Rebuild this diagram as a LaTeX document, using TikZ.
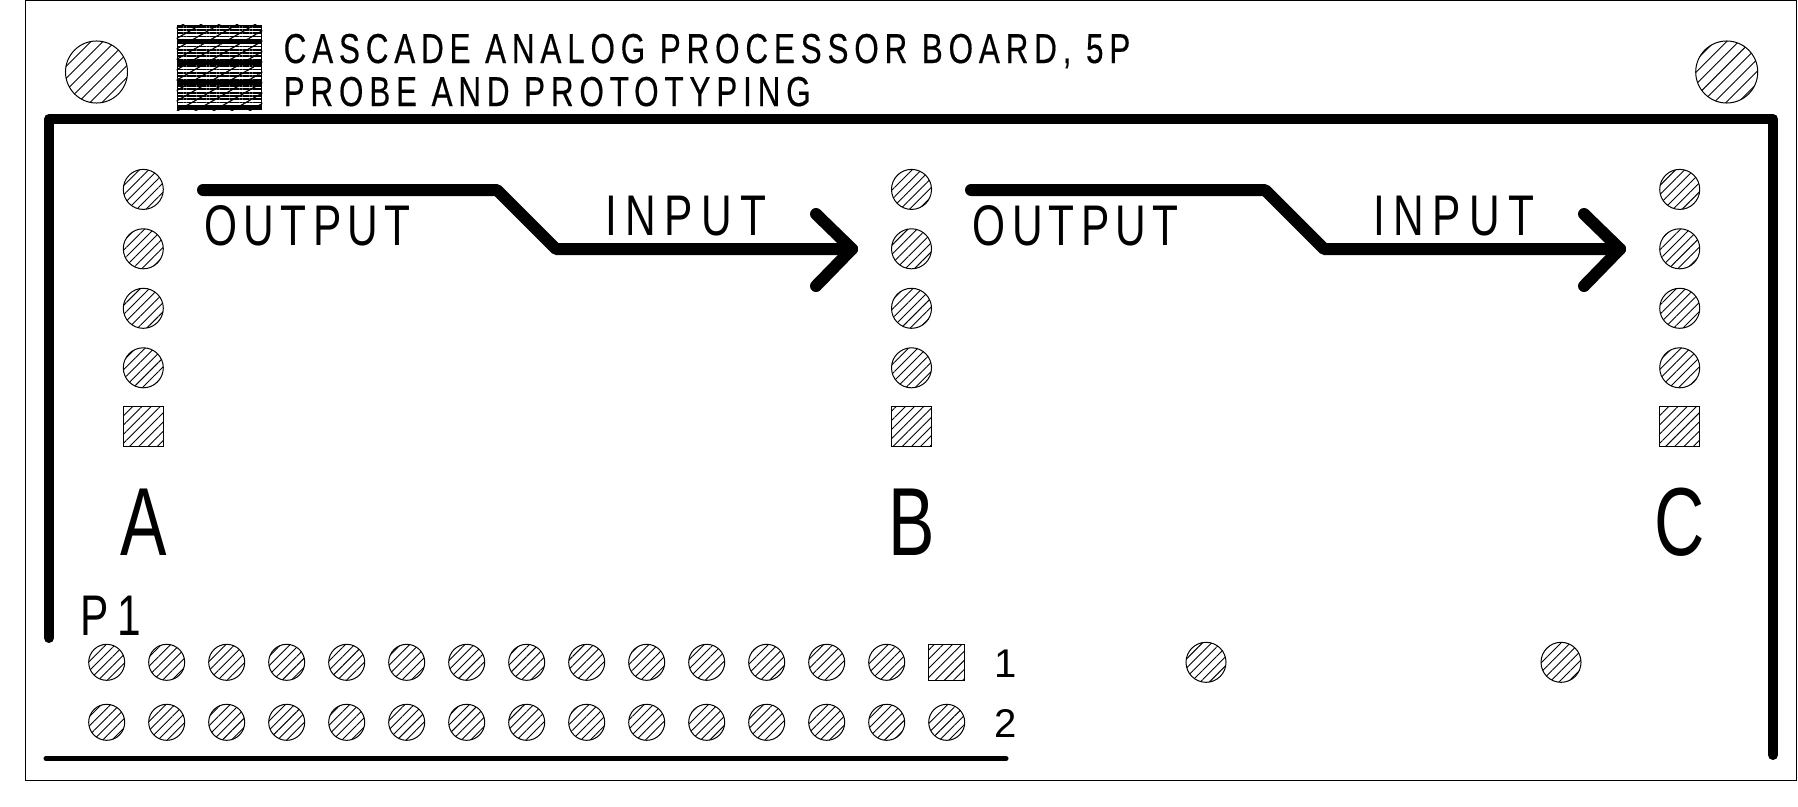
\documentclass[tikz,border=0pt]{standalone}
\usepackage{fontspec}
\setmainfont{Liberation Sans}
\usetikzlibrary{patterns.meta}
\newfontfamily\silkfont[FakeStretch=0.74, LetterSpace=11]{Liberation Sans}
\newfontfamily\inputfont[FakeStretch=0.74, LetterSpace=14.5]{Liberation Sans}
\newfontfamily\titlefont[FakeStretch=0.75, LetterSpace=14, FakeBold=0.4]{Liberation Sans}
\newfontfamily\columnfont[FakeStretch=0.72]{Liberation Sans}

\begin{document}
\begin{tikzpicture}
  [x=0.01cm, y=-0.01cm,
   pad/.style={circle, draw, line width=0.01cm, inner sep=0pt, minimum size=0.40cm,
     pattern={Lines[angle=45, distance=0.065cm, line width=0.009cm]}},
   padsq/.style={pad, rectangle, minimum size=0.40cm},
   pin/.style={pad, minimum size=0.36cm},
   pinsq/.style={padsq, minimum size=0.36cm},
   bighole/.style={pad, minimum size=0.62cm,
     pattern={Lines[angle=45, distance=0.085cm, line width=0.009cm]}},
   rail/.style={line width=0.10cm, line cap=round, line join=round},
   signal/.style={line width=0.12cm, line cap=round, line join=round},
   title/.style={anchor=base west, inner sep=0pt, font=\fontsize{11.9}{14}\titlefont},
   silk/.style={anchor=base west, inner sep=0pt, font=\fontsize{16.3}{18}\silkfont},
   silkin/.style={silk, font=\fontsize{16.3}{18}\inputfont},
   column/.style={anchor=base, inner sep=0pt, font=\fontsize{27.5}{30}\columnfont},
   pinnum/.style={anchor=base, inner sep=0pt, font=\fontsize{11.4}{14}\selectfont}]
  \useasboundingbox (0, 0) rectangle (1798, 806);

  % board edge
  \node (edge) at (911, 390.5) [draw, line width=0.01cm, inner sep=0pt,
    minimum width=17.70cm, minimum height=7.79cm] {};
  \node (holeL) at (96.5, 72) [bighole] {};
  \node (holeR) at (1726.7, 72) [bighole] {};

  % logo block
  \node (logo) at (219.5, 67.5) [draw, line width=0.01cm, inner sep=0pt,
    minimum width=0.84cm, minimum height=0.84cm,
    pattern={Lines[angle=0, distance=0.033cm, line width=0.018cm]}] {};
  \fill [pattern={Lines[angle=30, distance=0.09cm, line width=0.012cm]}]
    (logo.south west) rectangle (logo.north east);
  \foreach \y in {41, 62, 82, 107}
    \fill (logo.west |- 0, \y-2.5) rectangle (logo.east |- 0, \y+2.5);

  \node (title1) at (283, 63) [title] {CASCADE ANALOG PROCESSOR BOARD, 5P};
  \node (title2) at (283, 106) [title] {PROBE AND PROTOTYPING};

  % keepout rails
  \coordinate (railA) at (49, 638);
  \coordinate (railB) at (49, 119);
  \coordinate (railC) at (1773, 119);
  \coordinate (railD) at (1773, 755);
  \draw [rail] (railA) -- (railB) -- (railC) -- (railD);
  \coordinate (baseL) at (46, 758.5);
  \coordinate (baseR) at (1006, 758.5);
  \draw [line width=0.05cm, line cap=round] (baseL) -- (baseR);

  % pad columns
  \foreach \name/\x in {A/143.3, B/911.5, C/1679.7}{
    \foreach \n/\y in {1/189.4, 2/248.8, 3/308.3, 4/367.8}
      \node (pad\name\n) at (\x, \y) [pad] {};
    \node (pad\name5) at (\x, 426.5) [padsq] {};
    \node (col\name) at (\x, 555) [column] {\name};
  }

  % output to input arrows
  \foreach \name/\s in {a/0, b/768}{
    \coordinate (out\name) at (203+\s, 190);
    \coordinate (bendA\name) at (497+\s, 190);
    \coordinate (bendB\name) at (556+\s, 249);
    \coordinate (tip\name) at (852+\s, 249);
    \coordinate (barbA\name) at (816+\s, 214);
    \coordinate (barbB\name) at (816+\s, 286);
    \draw [signal] (out\name) -- (bendA\name) -- (bendB\name) -- (tip\name);
    \draw [signal] (barbA\name) -- (tip\name) -- (barbB\name);
    \node (output\name) at (204+\s, 245) [silk] {OUTPUT};
    \node (input\name) at (605+\s, 235) [silkin] {INPUT};
  }

  % connector P1
  \foreach \i in {0, ..., 13}{
    \node (top\i) at (106.7+60*\i, 662.3) [pin] {};
    \node (bot\i) at (106.7+60*\i, 722.3) [pin] {};
  }
  \node (top14) at (946.7, 662.3) [pinsq] {};
  \node (bot14) at (946.7, 722.3) [pin] {};
  \node (p1) at (80, 635) [silkin] {P1};
  \node (num1) at (1006, 677) [pinnum] {1};
  \node (num2) at (1006, 737) [pinnum] {2};
  \node (mountA) at (1206, 662.3) [pad] {};
  \node (mountB) at (1561, 662.3) [pad] {};
\end{tikzpicture}
\end{document}
